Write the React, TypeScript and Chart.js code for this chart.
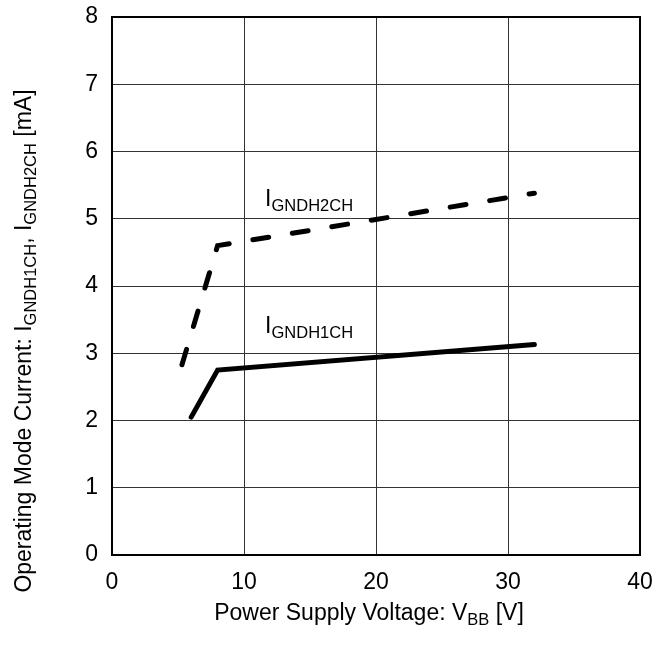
import React, { useEffect, useRef } from "react";
import { Chart, registerables } from "chart.js";
Chart.register(...registerables);

const xTicks = [0, 10, 20, 30, 40];
const yTicks = [0, 1, 2, 3, 4, 5, 6, 7, 8];
const ch1X = [6, 8, 32];
const ch1Y = [2.05, 2.75, 3.13];
const ch2X = [5.3, 8, 32];
const ch2Y = [2.83, 4.6, 5.38];

type Part = { t: string; sub?: boolean };
const xTitle: Part[] = [{ t: "Power Supply Voltage: V" }, { t: "BB", sub: true }, { t: " [V]" }];
const yTitle: Part[] = [
  { t: "Operating Mode Current: I" },
  { t: "GNDH1CH", sub: true },
  { t: ", I" },
  { t: "GNDH2CH", sub: true },
  { t: " [mA]" },
];
const label1: Part[] = [{ t: "I" }, { t: "GNDH1CH", sub: true }];
const label2: Part[] = [{ t: "I" }, { t: "GNDH2CH", sub: true }];
const label1Pos = { x: 11.6, y: 3.3 };
const label2Pos = { x: 11.6, y: 5.19 };

const FONT = "Liberation Sans, Arial, sans-serif";
const MAIN = 23;
const SUB = 16.5;
const SUBOFF = 5;

function measure(ctx: CanvasRenderingContext2D, parts: Part[]) {
  let w = 0;
  for (const p of parts) {
    ctx.font = `${p.sub ? SUB : MAIN}px ${FONT}`;
    w += ctx.measureText(p.t).width;
  }
  return w;
}

function drawRich(ctx: CanvasRenderingContext2D, parts: Part[], x: number, y: number) {
  ctx.textBaseline = "alphabetic";
  ctx.textAlign = "left";
  ctx.fillStyle = "#000";
  let cx = x;
  for (const p of parts) {
    ctx.font = `${p.sub ? SUB : MAIN}px ${FONT}`;
    ctx.fillText(p.t, cx, p.sub ? y + SUBOFF : y);
    cx += ctx.measureText(p.t).width;
  }
}

const decor = {
  id: "decor",
  afterDraw(chart: any) {
    const { ctx, chartArea: a, scales } = chart;
    ctx.save();
    ctx.strokeStyle = "#000";
    ctx.lineWidth = 2;
    ctx.strokeRect(a.left, a.top, a.right - a.left, a.bottom - a.top);

    drawRich(ctx, label1, scales.x.getPixelForValue(label1Pos.x), scales.y.getPixelForValue(label1Pos.y));
    drawRich(ctx, label2, scales.x.getPixelForValue(label2Pos.x), scales.y.getPixelForValue(label2Pos.y));

    const xw = measure(ctx, xTitle);
    drawRich(ctx, xTitle, 369 - xw / 2, 620);

    const yw = measure(ctx, yTitle);
    ctx.translate(31, 341);
    ctx.rotate(-Math.PI / 2);
    drawRich(ctx, yTitle, -yw / 2, 0);
    ctx.restore();
  },
};

export default function App() {
  const ref = useRef<HTMLCanvasElement>(null);
  useEffect(() => {
    document.body.style.margin = "0";
    const chart = new Chart(ref.current!, {
      type: "scatter",
      data: {
        datasets: [
          {
            data: ch1X.map((x, i) => ({ x, y: ch1Y[i] })),
            showLine: true,
            borderColor: "#000",
            borderWidth: 5,
            pointRadius: 0,
            tension: 0,
            borderCapStyle: "round",
            borderJoinStyle: "miter",
          },
          {
            data: ch2X.map((x, i) => ({ x, y: ch2Y[i] })),
            showLine: true,
            borderColor: "#000",
            borderWidth: 5,
            pointRadius: 0,
            tension: 0,
            borderDash: [16, 24],
            borderCapStyle: "round",
            borderJoinStyle: "miter",
          },
        ],
      },
      options: {
        animation: false,
        responsive: false,
        events: [],
        layout: { padding: { left: 0, top: 17, right: 14, bottom: 0 } },
        plugins: { legend: { display: false }, tooltip: { enabled: false } },
        scales: {
          x: {
            type: "linear",
            min: 0,
            max: 40,
            afterBuildTicks: (s: any) => {
              s.ticks = xTicks.map((v) => ({ value: v }));
            },
            afterFit: (s: any) => {
              s.height = 97;
              s.paddingLeft = 0;
              s.paddingRight = 0;
            },
            grid: { color: "#333", lineWidth: 1, drawTicks: false },
            border: { display: false },
            ticks: { color: "#000", font: { size: MAIN, family: FONT }, padding: 14, maxRotation: 0 },
          },
          y: {
            type: "linear",
            min: 0,
            max: 8,
            afterBuildTicks: (s: any) => {
              s.ticks = yTicks.map((v) => ({ value: v }));
            },
            afterFit: (s: any) => {
              s.width = 112;
              s.paddingTop = 0;
              s.paddingBottom = 0;
            },
            grid: { color: "#333", lineWidth: 1, drawTicks: false },
            border: { display: false },
            ticks: { color: "#000", font: { size: MAIN, family: FONT }, padding: 14 },
          },
        },
      },
      plugins: [decor],
    } as any);
    return () => chart.destroy();
  }, []);
  return (
    <div style={{ width: 654, height: 652, background: "#fff" }}>
      <canvas ref={ref} width={654} height={652} />
    </div>
  );
}
